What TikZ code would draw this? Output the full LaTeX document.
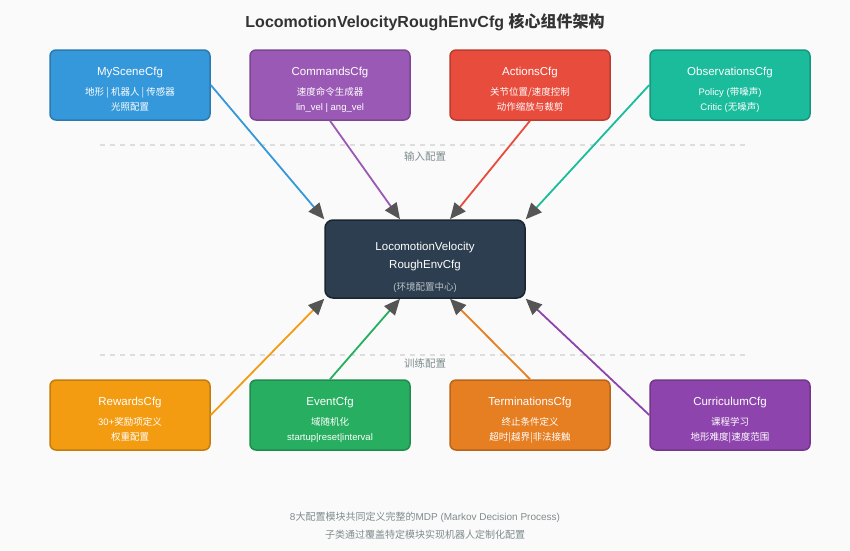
\documentclass[tikz,border=0pt]{standalone}
\usepackage{fontspec}
\setmainfont{Liberation Sans}
\newfontfamily\cjk{Noto Sans CJK SC}
\usepackage{tikz}
\usetikzlibrary{arrows.meta}
\definecolor{bgc}{HTML}{FAFAFA}
\definecolor{titlec}{HTML}{333333}
\definecolor{scenec}{HTML}{3498DB}
\definecolor{cmdc}{HTML}{9B59B6}
\definecolor{actc}{HTML}{E74C3C}
\definecolor{obsc}{HTML}{1ABC9C}
\definecolor{rewc}{HTML}{F39C12}
\definecolor{evtc}{HTML}{27AE60}
\definecolor{termc}{HTML}{E67E22}
\definecolor{currc}{HTML}{8E44AD}
\definecolor{hubc}{HTML}{2C3E50}
\definecolor{hubsub}{HTML}{BDC3C7}
\definecolor{tipc}{HTML}{555555}
\definecolor{notec}{HTML}{7F8C8D}
\definecolor{sepc}{HTML}{DDDDDD}
\newcommand{\cfgtext}[3]{{\fontsize{11.5}{15}\selectfont #1}\\[5pt]{#2}\\{#3}}

\begin{document}
\begin{tikzpicture}[x=1pt,y=-1pt,
 cfg/.style={draw=#1!80!black,fill=#1,line width=1.5pt,rounded corners=6pt,
   minimum width=160pt,minimum height=70pt,text=white,align=center,
   font=\fontsize{9.5}{15}\selectfont,text height=50pt,text depth=0pt},
 link/.style={draw=#1,line width=1.8pt,-{Triangle[length=16pt,width=14pt,color=tipc]}},
 sep/.style={draw=sepc,line width=1.5pt,dash pattern=on 5pt off 5pt},
 note/.style={text=notec,font=\fontsize{10.5}{18}\selectfont}]
\fill[bgc] (0,0) rectangle (850,550);
\useasboundingbox (0,0) rectangle (850,550);
\node[font=\fontsize{16}{20}\selectfont\bfseries,text=titlec] (title) at (425,22.5)
  {LocomotionVelocityRoughEnvCfg {\cjk 核心组件架构}};
% input configs
\node[cfg=scenec] (scene) at (130,85) {\cfgtext{MySceneCfg}{\cjk 地形 | 机器人 | 传感器}{\cjk 光照配置}};
\node[cfg=cmdc] (cmd) at (330,85) {\cfgtext{CommandsCfg}{\cjk 速度命令生成器}{lin\_vel | ang\_vel}};
\node[cfg=actc] (act) at (530,85) {\cfgtext{ActionsCfg}{\cjk 关节位置/速度控制}{\cjk 动作缩放与裁剪}};
\node[cfg=obsc] (obs) at (730,85) {\cfgtext{ObservationsCfg}{Policy ({\cjk 带噪声})}{Critic ({\cjk 无噪声})}};
\draw[sep] (100,145) -- (750,145);
\node[note] (inlabel) at (425,156.5) {\cjk 输入配置};
% hub
\node[draw=hubc!60!black,fill=hubc,line width=1.5pt,rounded corners=8pt,
  minimum width=200pt,minimum height=78pt,text=white,align=center,
  font=\fontsize{11.5}{18}\selectfont,text height=62pt,text depth=0pt] (hub) at (425,259)
  {LocomotionVelocity\\RoughEnvCfg\\[4pt]{\fontsize{9.5}{18}\selectfont\color{hubsub}({\cjk 环境配置中心})}};
% training configs
\draw[sep] (100,355) -- (750,355);
\node[note] (trainlabel) at (425,363) {\cjk 训练配置};
\node[cfg=rewc] (rew) at (130,415) {\cfgtext{RewardsCfg}{30+{\cjk 奖励项定义}}{\cjk 权重配置}};
\node[cfg=evtc] (evt) at (330,415) {\cfgtext{EventCfg}{\cjk 域随机化}{startup|reset|interval}};
\node[cfg=termc] (term) at (530,415) {\cfgtext{TerminationsCfg}{\cjk 终止条件定义}{\cjk 超时|越界|非法接触}};
\node[cfg=currc] (curr) at (730,415) {\cfgtext{CurriculumCfg}{\cjk 课程学习}{\cjk 地形难度|速度范围}};
% connectors
\draw[link=scenec] (scene.east) -- (hub.north west);
\draw[link=cmdc] (cmd.south) -- ([xshift=-25pt]hub.north);
\draw[link=actc] (act.south) -- ([xshift=25pt]hub.north);
\draw[link=obsc] (obs.west) -- (hub.north east);
\draw[link=rewc] (rew.east) -- (hub.south west);
\draw[link=evtc] (evt.north) -- ([xshift=-25pt]hub.south);
\draw[link=termc] (term.north) -- ([xshift=25pt]hub.south);
\draw[link=currc] (curr.west) -- (hub.south east);
\node[note,align=center,font=\fontsize{10}{18}\selectfont] (foot) at (425,526)
  {8{\cjk 大配置模块共同定义完整的}MDP (Markov Decision Process)\\{\cjk 子类通过覆盖特定模块实现机器人定制化配置}};
\end{tikzpicture}
\end{document}
